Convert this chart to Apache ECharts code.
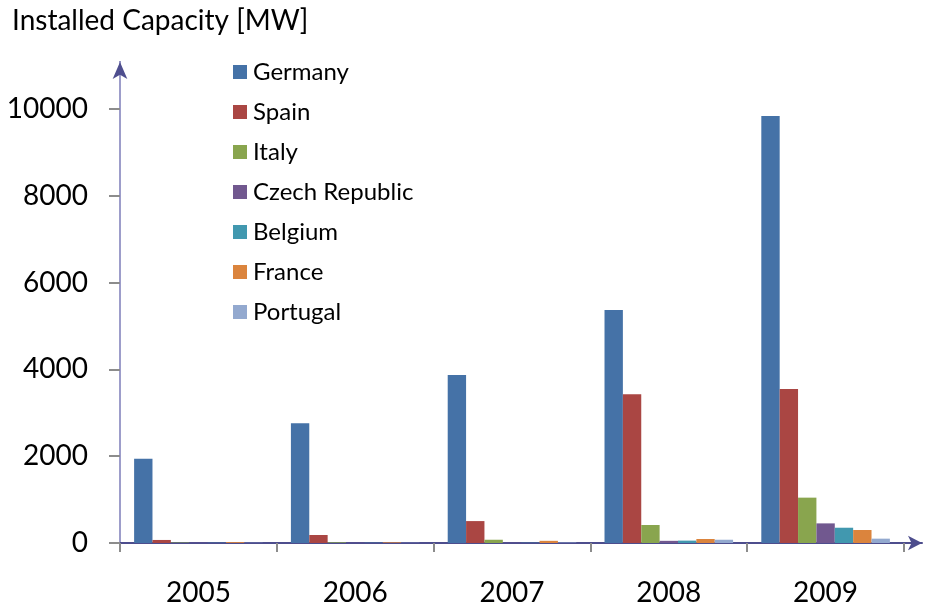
<!DOCTYPE html>
<html>
<head>
<meta charset="utf-8">
<script src="https://cdn.jsdelivr.net/npm/echarts@6/dist/echarts.min.js"></script>
<style>
  html, body { margin: 0; padding: 0; background: #fff; }
  #chart { width: 929px; height: 610px; }
</style>
</head>
<body>
<div id="chart"></div>
<script>
// years on the x axis
const years = ['2005', '2006', '2007', '2008', '2009'];

// installed capacity per country [MW]
const germany = [1940, 2760, 3870, 5370, 9840];
const spain = [70, 185, 505, 3425, 3550];
const italy = [10, 15, 75, 415, 1045];
const czech = [5, 5, 5, 50, 452];
const belgium = [5, 5, 5, 55, 352];
const france = [20, 15, 50, 92, 300];
const portugal = [5, 5, 10, 75, 100];

const countries = ['Germany', 'Spain', 'Italy', 'Czech Republic', 'Belgium', 'France', 'Portugal'];
const values = [germany, spain, italy, czech, belgium, france, portugal];
const colors = ['#4572A7', '#AA4643', '#89A54E', '#71588F', '#4198AF', '#DB843D', '#93A9CF'];

const yTicks = [0, 2000, 4000, 6000, 8000, 10000];

const font = 'Lato, "Open Sans", sans-serif';
const tickGray = '#8c8c8c';

const chart = echarts.init(document.getElementById('chart'), null, { renderer: 'canvas' });

chart.setOption({
  animation: false,
  color: colors,
  title: {
    text: 'Installed Capacity [MW]',
    left: 7,
    top: 2,
    textStyle: { fontFamily: font, fontSize: 28, fontWeight: 'normal', color: '#000' }
  },
  legend: {
    orient: 'vertical',
    left: 228,
    top: 55,
    itemWidth: 14,
    itemHeight: 14,
    itemGap: 16,
    icon: 'rect',
    data: countries,
    textStyle: { fontFamily: font, fontSize: 24, color: '#000', lineHeight: 22, padding: [0, 0, 0, 1] }
  },
  grid: [
    // bars
    { left: 120, right: 25, top: 109, bottom: 67 },
    // axis lines with arrows
    { left: 120, right: 7, top: 62, bottom: 67 }
  ],
  xAxis: [
    {
      type: 'category',
      gridIndex: 0,
      data: years,
      axisLine: { show: false },
      axisTick: { show: true, length: 9, lineStyle: { color: tickGray, width: 2 } },
      axisLabel: { margin: 36, fontFamily: font, fontSize: 28, color: '#000' }
    },
    {
      type: 'value',
      gridIndex: 1,
      min: 0,
      max: 1,
      axisLine: {
        show: true,
        symbol: ['none', 'arrow'],
        symbolSize: [11, 14],
        lineStyle: { color: '#4d4d8d', width: 2 }
      },
      axisTick: { show: false },
      axisLabel: { show: false },
      splitLine: { show: false }
    }
  ],
  yAxis: [
    {
      type: 'value',
      gridIndex: 0,
      min: 0,
      max: 10000,
      interval: 2000,
      axisLine: { show: false },
      axisTick: { show: true, length: 11, lineStyle: { color: tickGray, width: 2 } },
      axisLabel: {
        margin: 32,
        fontFamily: font,
        fontSize: 28,
        color: '#000',
        customValues: yTicks,
        formatter: (v) => String(v)
      },
      splitLine: { show: false }
    },
    {
      // dark arrow head
      type: 'value',
      gridIndex: 1,
      position: 'left',
      min: 0,
      max: 1,
      axisLine: {
        show: true,
        symbol: ['none', 'arrow'],
        symbolSize: [11, 17],
        lineStyle: { color: '#4f4f8f', width: 2 }
      },
      axisTick: { show: false },
      axisLabel: { show: false },
      splitLine: { show: false }
    },
    {
      // lighter shaft drawn over it
      type: 'value',
      gridIndex: 1,
      position: 'left',
      offset: 0,
      min: 0,
      max: 1,
      axisLine: { show: true, lineStyle: { color: '#9d9dca', width: 2 } },
      axisTick: { show: false },
      axisLabel: { show: false },
      splitLine: { show: false }
    }
  ],
  series: countries.map((name, i) => ({
    name: name,
    type: 'bar',
    xAxisIndex: 0,
    yAxisIndex: 0,
    barGap: 0,
    barCategoryGap: '18%',
    data: values[i],
    itemStyle: { color: colors[i] }
  }))
});
</script>
</body>
</html>
